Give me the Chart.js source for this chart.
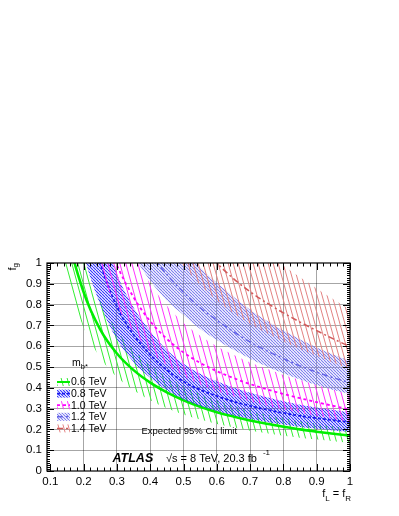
<!DOCTYPE html>
<html>
<head>
<meta charset="utf-8">
<script src="https://cdn.jsdelivr.net/npm/chart.js@4.4.1/dist/chart.umd.min.js"></script>
<style>
  html, body { margin: 0; padding: 0; background: #fff; }
  #wrap { width: 399px; height: 516px; }
</style>
</head>
<body>
<div id="wrap"><canvas id="c" width="399" height="516"></canvas></div>
<script>
// f_L = f_R values where the curves were read
const fL = [0.1, 0.15, 0.2, 0.25, 0.3, 0.35, 0.4, 0.45, 0.5, 0.55, 0.6, 0.65, 0.7, 0.75, 0.8, 0.85, 0.9, 0.95, 1.0];

const masses = ['0.6 TeV', '0.8 TeV', '1.0 TeV', '1.2 TeV', '1.4 TeV'];

// expected limit on f_g, with the -1 sigma / +1 sigma band edges
const exp06 = [1.75, 1.16, 0.86, 0.68, 0.565, 0.485, 0.425, 0.378, 0.34, 0.309, 0.283, 0.262, 0.243, 0.227, 0.213, 0.2, 0.189, 0.179, 0.17];
const lo06  = [1.4, 0.93, 0.69, 0.545, 0.452, 0.388, 0.34, 0.302, 0.272, 0.247, 0.226, 0.21, 0.194, 0.182, 0.17, 0.16, 0.151, 0.143, 0.136];
const hi06  = [2.1, 1.39, 1.03, 0.816, 0.678, 0.582, 0.51, 0.454, 0.408, 0.371, 0.34, 0.314, 0.292, 0.272, 0.256, 0.24, 0.227, 0.215, 0.204];

const exp08 = [2.5, 1.75, 1.3, 1.0, 0.79, 0.655, 0.56, 0.485, 0.43, 0.39, 0.36, 0.334, 0.313, 0.295, 0.279, 0.265, 0.254, 0.244, 0.235];
const lo08  = [2.0, 1.4, 1.04, 0.8, 0.632, 0.524, 0.448, 0.388, 0.344, 0.312, 0.288, 0.267, 0.25, 0.236, 0.223, 0.212, 0.203, 0.195, 0.188];
const hi08  = [3.0, 2.1, 1.56, 1.2, 0.948, 0.786, 0.672, 0.582, 0.516, 0.468, 0.432, 0.401, 0.376, 0.354, 0.335, 0.318, 0.305, 0.293, 0.282];

const exp10 = [3.0, 2.0, 1.5, 1.2, 0.99, 0.835, 0.72, 0.635, 0.57, 0.52, 0.48, 0.447, 0.418, 0.393, 0.37, 0.35, 0.331, 0.313, 0.295];
const lo10  = [2.4, 1.6, 1.2, 0.96, 0.792, 0.668, 0.576, 0.508, 0.456, 0.416, 0.384, 0.358, 0.334, 0.314, 0.296, 0.28, 0.265, 0.25, 0.236];
const hi10  = [3.75, 2.5, 1.88, 1.5, 1.24, 1.044, 0.9, 0.794, 0.712, 0.65, 0.6, 0.559, 0.522, 0.491, 0.462, 0.438, 0.414, 0.391, 0.369];

const exp12 = [4.2, 2.8, 2.1, 1.68, 1.4, 1.2, 1.05, 0.945, 0.86, 0.785, 0.725, 0.67, 0.62, 0.578, 0.54, 0.505, 0.475, 0.448, 0.425];
const lo12  = [3.65, 2.44, 1.83, 1.46, 1.22, 1.04, 0.915, 0.82, 0.75, 0.683, 0.63, 0.583, 0.54, 0.503, 0.47, 0.44, 0.413, 0.39, 0.37];
const hi12  = [5.25, 3.5, 2.63, 2.1, 1.75, 1.5, 1.31, 1.18, 1.075, 0.98, 0.905, 0.838, 0.775, 0.722, 0.675, 0.632, 0.594, 0.56, 0.53];

const exp14 = [6.0, 4.0, 3.0, 2.4, 2.0, 1.71, 1.5, 1.33, 1.2, 1.09, 1.0, 0.925, 0.862, 0.808, 0.76, 0.716, 0.675, 0.635, 0.598];
const lo14  = [4.9, 3.28, 2.46, 1.97, 1.64, 1.4, 1.23, 1.09, 0.985, 0.895, 0.82, 0.758, 0.707, 0.663, 0.623, 0.587, 0.554, 0.521, 0.49];
const hi14  = [7.8, 5.2, 3.9, 3.12, 2.6, 2.22, 1.95, 1.73, 1.56, 1.42, 1.3, 1.2, 1.12, 1.05, 0.988, 0.931, 0.878, 0.826, 0.777];

const xTicks = [0.1, 0.2, 0.3, 0.4, 0.5, 0.6, 0.7, 0.8, 0.9, 1.0];
const yTicks = [0, 0.1, 0.2, 0.3, 0.4, 0.5, 0.6, 0.7, 0.8, 0.9, 1.0];

const FONT = '"Liberation Sans", Arial, Helvetica, sans-serif';
const canvas = document.getElementById('c');
const ctx = canvas.getContext('2d');

// ROOT-like hatch fills
function hatch(color, w, h, lw, slash) {
  const c = document.createElement('canvas');
  c.width = w; c.height = h;
  const g = c.getContext('2d');
  g.strokeStyle = color;
  g.lineWidth = lw;
  g.beginPath();
  for (const o of [-w, 0, w]) {
    if (slash) { g.moveTo(o, h); g.lineTo(o + w, 0); }
    else { g.moveTo(o, 0); g.lineTo(o + w, h); }
  }
  g.stroke();
  return ctx.createPattern(c, 'repeat');
}

const styles = [
  { line: '#00ee00', width: 2.6, dash: [], fill: hatch('#33ee33', 6, 22, 1, false) },
  { line: '#1a1aee', width: 1.8, dash: [3, 2], fill: hatch('#3030ff', 3, 3, 1.1, false) },
  { line: '#ff00ff', width: 1.8, dash: [3, 3], fill: hatch('#ff33ff', 6, 22, 1, false) },
  { line: '#6464e6', width: 1.5, dash: [6, 3, 2, 3], fill: hatch('#7a7aee', 3, 3, 1.05, false) },
  { line: '#d05a5a', width: 1.5, dash: [6, 3, 2, 3], fill: hatch('#e38282', 5, 18, 1, false) }
];

const curves = [
  [exp06, lo06, hi06],
  [exp08, lo08, hi08],
  [exp10, lo10, hi10],
  [exp12, lo12, hi12],
  [exp14, lo14, hi14]
];

function pts(arr) { return arr.map((v, i) => ({ x: fL[i], y: v })); }

const datasets = [];
curves.forEach((c, k) => {
  const st = styles[k];
  const loIdx = datasets.length;
  datasets.push({ data: pts(c[1]), borderWidth: 0, pointRadius: 0, fill: false });
  datasets.push({ data: pts(c[2]), borderWidth: 0, pointRadius: 0,
                  fill: { target: loIdx }, backgroundColor: st.fill });
  datasets.push({ data: pts(c[0]), borderColor: st.line, borderWidth: st.width,
                  borderDash: st.dash, pointRadius: 0, fill: false });
});
// later entries are drawn on top
datasets.forEach((d, i) => { d.order = -i; d.clip = 0; });

function sub(c, x, y, main, s, size, dy) {
  c.font = size + 'px ' + FONT;
  c.fillText(main, x, y);
  const w = c.measureText(main).width;
  c.font = (size * 0.72) + 'px ' + FONT;
  c.fillText(s, x + w, y + dy);
  return w + c.measureText(s).width;
}

const overlay = {
  id: 'overlay',
  afterDatasetsDraw(chart) {
    const c = chart.ctx, a = chart.chartArea;
    const xs = chart.scales.x, ys = chart.scales.y;
    c.save();
    c.strokeStyle = '#000';
    c.lineWidth = 1;
    c.beginPath();
    for (let i = 0; i <= 50; i++) {
      const v = i * 0.02;
      if (v < xs.min - 1e-9) continue;
      const px = Math.round(xs.getPixelForValue(v)) + 0.5;
      const L = i % 5 === 0 ? 7 : 3.5;
      c.moveTo(px, a.bottom); c.lineTo(px, a.bottom - L);
      c.moveTo(px, a.top); c.lineTo(px, a.top + L);
    }
    for (let i = 0; i <= 100; i++) {
      const py = Math.round(ys.getPixelForValue(i * 0.01)) + 0.5;
      const L = i % 10 === 0 ? 7 : 3;
      c.moveTo(a.left, py); c.lineTo(a.left + L, py);
      c.moveTo(a.right, py); c.lineTo(a.right - L, py);
    }
    c.stroke();
    c.lineWidth = 1.2;
    c.strokeRect(a.left, a.top, a.right - a.left, a.bottom - a.top);
    c.restore();
  },
  afterDraw(chart) {
    const c = chart.ctx;
    c.save();
    c.fillStyle = '#000';
    c.textBaseline = 'alphabetic';

    // legend
    sub(c, 72, 366, 'm', 'b*', 10.5, 3);
    masses.forEach((m, k) => {
      const y = 382 + k * 11.6;
      const st = styles[k];
      c.fillStyle = st.fill;
      c.fillRect(57, y - 4, 13, 8);
      c.strokeStyle = st.line;
      c.lineWidth = Math.min(st.width, 2);
      c.setLineDash(st.dash);
      c.beginPath(); c.moveTo(57, y); c.lineTo(70, y); c.stroke();
      c.setLineDash([]);
      c.fillStyle = '#000';
      c.font = '10.5px ' + FONT;
      c.textBaseline = 'middle';
      c.fillText(m, 71, y + 0.5);
      c.textBaseline = 'alphabetic';
    });

    c.font = '9.5px ' + FONT;
    c.textBaseline = 'middle';
    c.fillText('Expected 95% CL limit', 141.5, 431);

    c.font = 'italic bold 12.5px ' + FONT;
    c.fillText('ATLAS', 112.5, 458.5);
    c.font = '11px ' + FONT;
    c.fillText('\u221As = 8 TeV, 20.3 fb', 166, 458.5);
    const w = c.measureText('\u221As = 8 TeV, 20.3 fb').width;
    c.font = '8px ' + FONT;
    c.fillText('-1', 166 + w + 6, 453);

    // axis titles
    c.textBaseline = 'alphabetic';
    const t1 = 'f', t2 = 'L', t3 = ' = f', t4 = 'R';
    c.font = '11px ' + FONT;
    const w1 = c.measureText(t1).width, w3 = c.measureText(t3).width;
    c.font = '8px ' + FONT;
    const w2 = c.measureText(t2).width, w4 = c.measureText(t4).width;
    let x = 351 - (w1 + w2 + w3 + w4);
    c.font = '11px ' + FONT; c.fillText(t1, x, 497); x += w1;
    c.font = '8px ' + FONT; c.fillText(t2, x, 500.5); x += w2;
    c.font = '11px ' + FONT; c.fillText(t3, x, 497); x += w3;
    c.font = '8px ' + FONT; c.fillText(t4, x, 500.5);

    c.translate(15.5, 263);
    c.rotate(-Math.PI / 2);
    c.font = '11px ' + FONT;
    const fw = c.measureText('f').width;
    c.font = '8px ' + FONT;
    const gw = c.measureText('g').width;
    c.font = '11px ' + FONT;
    c.fillText('f', -(fw + gw), 0);
    c.font = '8px ' + FONT;
    c.fillText('g', -gw, 2.5);
    c.restore();
  }
};

Chart.defaults.font.family = FONT;

new Chart(ctx, {
  type: 'line',
  data: { datasets },
  options: {
    responsive: false,
    animation: false,
    devicePixelRatio: 1,
    layout: { padding: { top: 263, right: 49, left: 0, bottom: 0 } },
    elements: { line: { cubicInterpolationMode: 'monotone', capBezierPoints: false } },
    plugins: { legend: { display: false }, tooltip: { enabled: false },
               filler: { propagate: false } },
    scales: {
      x: {
        type: 'linear', min: 0.09, max: 1.0,
        afterBuildTicks: s => { s.ticks = xTicks.map(v => ({ value: v })); },
        afterFit: s => { s.height = 45; },
        ticks: { autoSkip: false, maxRotation: 0, padding: 4, color: '#000',
                 font: { size: 11.5 },
                 callback: v => String(+(+v).toFixed(1)) },
        grid: { drawTicks: false,
                color: c => (c.tick && c.tick.value > 0.1 && c.tick.value < 1) ? 'rgba(0,0,0,0.35)' : 'rgba(0,0,0,0)',
                borderDash: [1, 2] },
        border: { display: false }
      },
      y: {
        type: 'linear', min: 0, max: 1,
        afterBuildTicks: s => { s.ticks = yTicks.map(v => ({ value: v })); },
        afterFit: s => { s.width = 47; },
        ticks: { autoSkip: false, padding: 5, color: '#000', font: { size: 11.5 },
                 callback: v => String(+(+v).toFixed(1)) },
        grid: { drawTicks: false,
                color: c => (c.tick && c.tick.value > 0 && c.tick.value < 1) ? 'rgba(0,0,0,0.35)' : 'rgba(0,0,0,0)',
                borderDash: [1, 2] },
        border: { display: false }
      }
    }
  },
  plugins: [overlay]
});
</script>
</body>
</html>
